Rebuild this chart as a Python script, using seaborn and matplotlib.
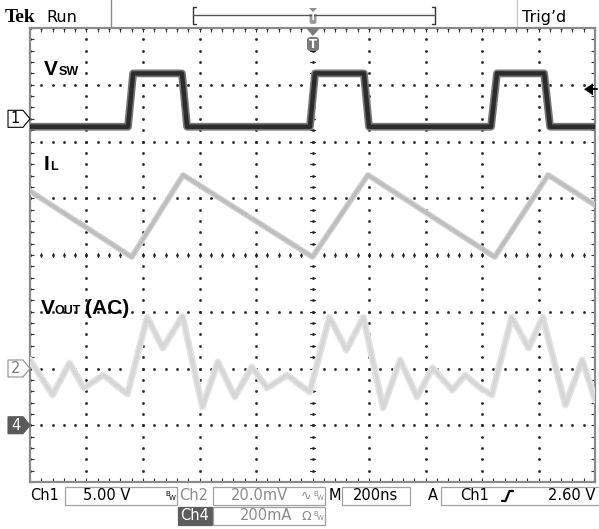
import numpy as np
import pandas as pd
import matplotlib
matplotlib.use("Agg")
import matplotlib.pyplot as plt
from matplotlib.lines import Line2D
from matplotlib.patches import Polygon, Rectangle, FancyBboxPatch
import seaborn as sns

# ---- acquisition settings ----
time_per_div_ns = 200
ch1_volts_per_div = 5.0
ch2_mv_per_div = 20.0
ch4_ma_per_div = 200.0
ch1_ref_div = 2.4      # channel ground markers, divisions from screen centre
ch2_ref_div = -2.0
ch4_ref_div = -3.0
trigger_level_v = 2.60

# ---- captured waveforms (time in ns relative to the trigger point) ----
vsw_t = [-1000, -653, -635, -462, -444, -9, 9, 182, 200, 632, 653, 820, 841, 1000]
vsw_v = [-0.7, -0.7, 4.0, 4.0, -0.7, -0.7, 4.0, 4.0, -0.7, -0.7, 4.0, 4.0, -0.7, -0.7]

il_t = [-1000, -640, -458, 0, 196, 645, 834, 1000]
il_ma = [825, 593, 882, 593, 882, 593, 882, 776]

vout_t = [-1000, -920, -860, -810, -740, -655, -585, -530, -460, -390, -335,
          -275, -215, -160, -90, -10, 60, 120, 180, 250, 310, 370, 425, 495,
          540, 595, 635, 705, 765, 815, 895, 955, 1000]
vout_mv = [3.0, -9.3, 1.9, -6.9, -2.3, -9.0, 18.1, 7.2, 18.5, -13.6, 2.3,
           -10.0, 0.5, -6.9, -2.3, -8.3, 18.1, 6.5, 18.1, -13.9, 3.0, -10.0,
           0.2, -7.6, -2.3, -6.9, -9.3, 18.1, 7.2, 18.1, -12.9, 3.0, -11.1]

# ---- readout strings ----
ch1_scale_txt = "5.00 V"
ch2_scale_txt = "20.0mV"
ch4_scale_txt = "200mA"
timebase_txt = "200ns"
trigger_src_txt = "Ch1"
trigger_lvl_txt = "2.60 V"

W, H = 599, 529
sns.set_theme(style="white")
plt.rcParams["font.family"] = ["DejaVu Sans"]

fig = plt.figure(figsize=(W / 100, H / 100), dpi=100, facecolor="white")


def fx(x):
    return x / W


def fy(y):
    return 1 - y / H


ax = fig.add_axes([fx(30), 47 / H, 565 / W, 454 / H])
ax.set_facecolor("white")
ax.set_xlim(-5 * time_per_div_ns, 5 * time_per_div_ns)
ax.set_ylim(-4, 4)

# ---- graticule ----
dot_kw = dict(linestyle="none", marker="s", ms=0.9, color="#262626", zorder=1)
ys_fine = np.arange(-4, 4.001, 0.2)
xs_fine = np.arange(-1000, 1000.1, 40)
for gx in np.arange(-1000, 1000.1, 200):
    ax.plot(np.full_like(ys_fine, gx), ys_fine, **dot_kw)
for gy in range(-4, 5):
    ax.plot(xs_fine, np.full_like(xs_fine, gy), **dot_kw)
# centre-line minor ticks
tick_h = 2.2 / 56.5 * time_per_div_ns
tick_v = 2.2 / 56.75
for yy in ys_fine:
    ax.plot([-tick_h, tick_h], [yy, yy], color="#262626", lw=0.8, zorder=1)
for xx in xs_fine:
    ax.plot([xx, xx], [-tick_v, tick_v], color="#262626", lw=0.8, zorder=1)

for sp in ax.spines.values():
    sp.set_color("#8a8a8a")
    sp.set_linewidth(1.6)
ax.set_xticks(np.arange(-1000, 1000.1, 200))
ax.set_xticks(xs_fine, minor=True)
ax.set_yticks(np.arange(-4, 4.1, 1))
ax.set_yticks(ys_fine, minor=True)
ax.tick_params(which="both", direction="in", top=True, right=True, bottom=True,
               left=True, length=2.6, width=0.8, color="#303030",
               labelbottom=False, labelleft=False)

# ---- traces ----
df_vsw = pd.DataFrame({"t": vsw_t, "div": ch1_ref_div + np.array(vsw_v) / ch1_volts_per_div})
df_il = pd.DataFrame({"t": il_t, "div": ch4_ref_div + np.array(il_ma) / ch4_ma_per_div})
df_vout = pd.DataFrame({"t": vout_t, "div": ch2_ref_div + np.array(vout_mv) / ch2_mv_per_div})

lp = dict(x="t", y="div", ax=ax, estimator=None, sort=False, errorbar=None,
          solid_joinstyle="round", solid_capstyle="round")
sns.lineplot(data=df_vout, color="#e4e4e4", lw=5.0, zorder=3, **lp)
sns.lineplot(data=df_vout, color="#d6d6d6", lw=2.6, zorder=3, **lp)
sns.lineplot(data=df_il, color="#cfcfcf", lw=4.2, zorder=3, **lp)
sns.lineplot(data=df_il, color="#bdbdbd", lw=2.2, zorder=3, **lp)
sns.lineplot(data=df_vsw, color="#777777", lw=5.6, zorder=4, **lp)
sns.lineplot(data=df_vsw, color="#2c2c2c", lw=3.2, zorder=4, **lp)
ax.set_xlabel("")
ax.set_ylabel("")

# trace labels
lab = dict(family="Liberation Sans", weight="bold", color="black", zorder=6,
           transform=fig.transFigure)
ax.text(fx(44), fy(75), "V", fontsize=15, **lab)
ax.text(fx(59), fy(75), "SW", fontsize=9, **lab)
ax.text(fx(44), fy(170), "I", fontsize=15, **lab)
ax.text(fx(50), fy(170), "L", fontsize=9, **lab)
ax.text(fx(41), fy(314), "V", fontsize=15, **lab)
ax.text(fx(55), fy(314), "OUT", fontsize=9, **lab)
ax.text(fx(85), fy(314), "(AC)", fontsize=15, **lab)

# trigger level arrow at right edge
trig_div = ch1_ref_div + trigger_level_v / ch1_volts_per_div
arrow_y = 255 - trig_div * 56.75
fig.add_artist(Polygon([[fx(584), fy(arrow_y)], [fx(593), fy(arrow_y - 6)],
                        [fx(593), fy(arrow_y + 6)]], closed=True,
                       transform=fig.transFigure, color="black", lw=0))
fig.add_artist(Line2D([fx(590), fx(597)], [fy(arrow_y), fy(arrow_y)],
                      transform=fig.transFigure, color="black", lw=1.4))


# ---- channel ground markers ----
def marker(ref_div, label, edge, face, tcolor):
    yc = 255 - ref_div * 56.75
    pts = [[fx(8), fy(yc - 8.5)], [fx(23), fy(yc - 8.5)], [fx(30), fy(yc)],
           [fx(23), fy(yc + 8.5)], [fx(8), fy(yc + 8.5)]]
    fig.add_artist(Polygon(pts, closed=True, transform=fig.transFigure,
                           facecolor=face, edgecolor=edge, lw=0.8))
    fig.text(fx(15.5), fy(yc), label, ha="center", va="center",
             fontsize=10.5, color=tcolor)


marker(ch1_ref_div, "1", "black", "white", "black")
marker(ch2_ref_div, "2", "#8c8c8c", "white", "#7a7a7a")
marker(ch4_ref_div, "4", "#5a5a5a", "#5a5a5a", "white")


# ---- header ----
def fline(xs, ys, **kw):
    fig.add_artist(Line2D([fx(v) for v in xs], [fy(v) for v in ys],
                          transform=fig.transFigure, **kw))


fig.text(fx(5), fy(22), "Tek", family="Liberation Serif", weight="bold",
         fontsize=14, color="black")
fig.text(fx(46), fy(22), "Run", fontsize=11.5, color="black")
fline([111, 111], [0, 26], color="#8a8a8a", lw=1)
fline([517, 517], [0, 26], color="#c8c8c8", lw=1)
fig.text(fx(522), fy(22), "Trig\u2019d", fontsize=11.5, color="black")
# record-length bracket
fline([196, 193, 193, 196], [7, 7, 24, 24], color="#333333", lw=1)
fline([432, 435, 435, 432], [7, 7, 24, 24], color="#333333", lw=1)
fline([193, 435], [15, 15], color="#555555", lw=1)
fig.add_artist(Polygon([[fx(309), fy(8)], [fx(317), fy(8)], [fx(313), fy(12)]],
                       closed=True, transform=fig.transFigure, color="#8a8a8a", lw=0))
fig.add_artist(FancyBboxPatch((fx(309.5), fy(24)), fx(7), 11 / H,
                              boxstyle="round,pad=0,rounding_size=0.004",
                              transform=fig.transFigure, facecolor="#9a9a9a",
                              edgecolor="none"))
fig.text(fx(313), fy(18), "T", ha="center", va="center", fontsize=6.5,
         color="white", weight="bold")
# trigger position marker under the top edge
fig.add_artist(Polygon([[fx(306), fy(28)], [fx(320), fy(28)], [fx(313), fy(36)]],
                       closed=True, transform=fig.transFigure, color="#7a7a7a",
                       lw=0, zorder=7))
fig.add_artist(FancyBboxPatch((fx(307), fy(51)), fx(12), 14 / H,
                              boxstyle="round,pad=0,rounding_size=0.006",
                              transform=fig.transFigure, facecolor="#7a7a7a",
                              edgecolor="none", zorder=7))
fig.text(fx(313), fy(44), "T", ha="center", va="center", fontsize=8.5,
         color="white", weight="bold", zorder=8)


# ---- readout boxes ----
def box(x0, x1, y0, y1, face="white", edge="#a0a0a0"):
    fig.add_artist(Rectangle((fx(x0), fy(y1)), fx(x1 - x0), (y1 - y0) / H,
                             transform=fig.transFigure, facecolor=face,
                             edgecolor=edge, lw=0.9))


def bw(x, y, color):
    fig.text(fx(x), fy(y), "B", fontsize=5, color=color)
    fig.text(fx(x + 4), fy(y + 4), "W", fontsize=5, color=color)


rd = dict(fontsize=10.5, va="center")
row1, row2 = 496, 516
fig.text(fx(30), fy(row1), "Ch1", color="black", **rd)
box(65, 177, 487, 505)
fig.text(fx(107), fy(row1), ch1_scale_txt, ha="center", color="black", **rd)
bw(165, 496, "black")
fig.text(fx(179), fy(row1), "Ch2", color="#8a8a8a", **rd)
box(213, 325, 487, 505)
fig.text(fx(259), fy(row1), ch2_scale_txt, ha="center", color="#8a8a8a", **rd)
fig.text(fx(306), fy(row1), "\u223f", ha="center", color="#8a8a8a", fontsize=9,
         va="center")
bw(313, 496, "#8a8a8a")
fig.text(fx(329), fy(row1), "M", color="black", **rd)
box(342, 410, 487, 505)
fig.text(fx(376), fy(row1), timebase_txt, ha="center", color="black", **rd)
fig.text(fx(433), fy(row1), "A", ha="center", color="black", **rd)
box(441, 600, 487, 505)
fig.text(fx(475), fy(row1), trigger_src_txt, ha="center", color="black", **rd)
fline([502, 505.5, 509.5, 513], [501, 501, 491, 491], color="black", lw=1.6)
fig.text(fx(595), fy(row1), trigger_lvl_txt, ha="right", color="black", **rd)

box(178, 212, 507, 525, face="#5c5c5c", edge="#5c5c5c")
fig.text(fx(195), fy(row2), "Ch4", ha="center", color="white", **rd)
box(213, 325, 507, 525)
fig.text(fx(266), fy(row2), ch4_scale_txt, ha="center", color="#8a8a8a", **rd)
fig.text(fx(306), fy(row2), "\u03a9", ha="center", color="#8a8a8a", fontsize=9,
         va="center")
bw(313, 516, "#8a8a8a")

fig.savefig("out.png", dpi=100, facecolor="white")
